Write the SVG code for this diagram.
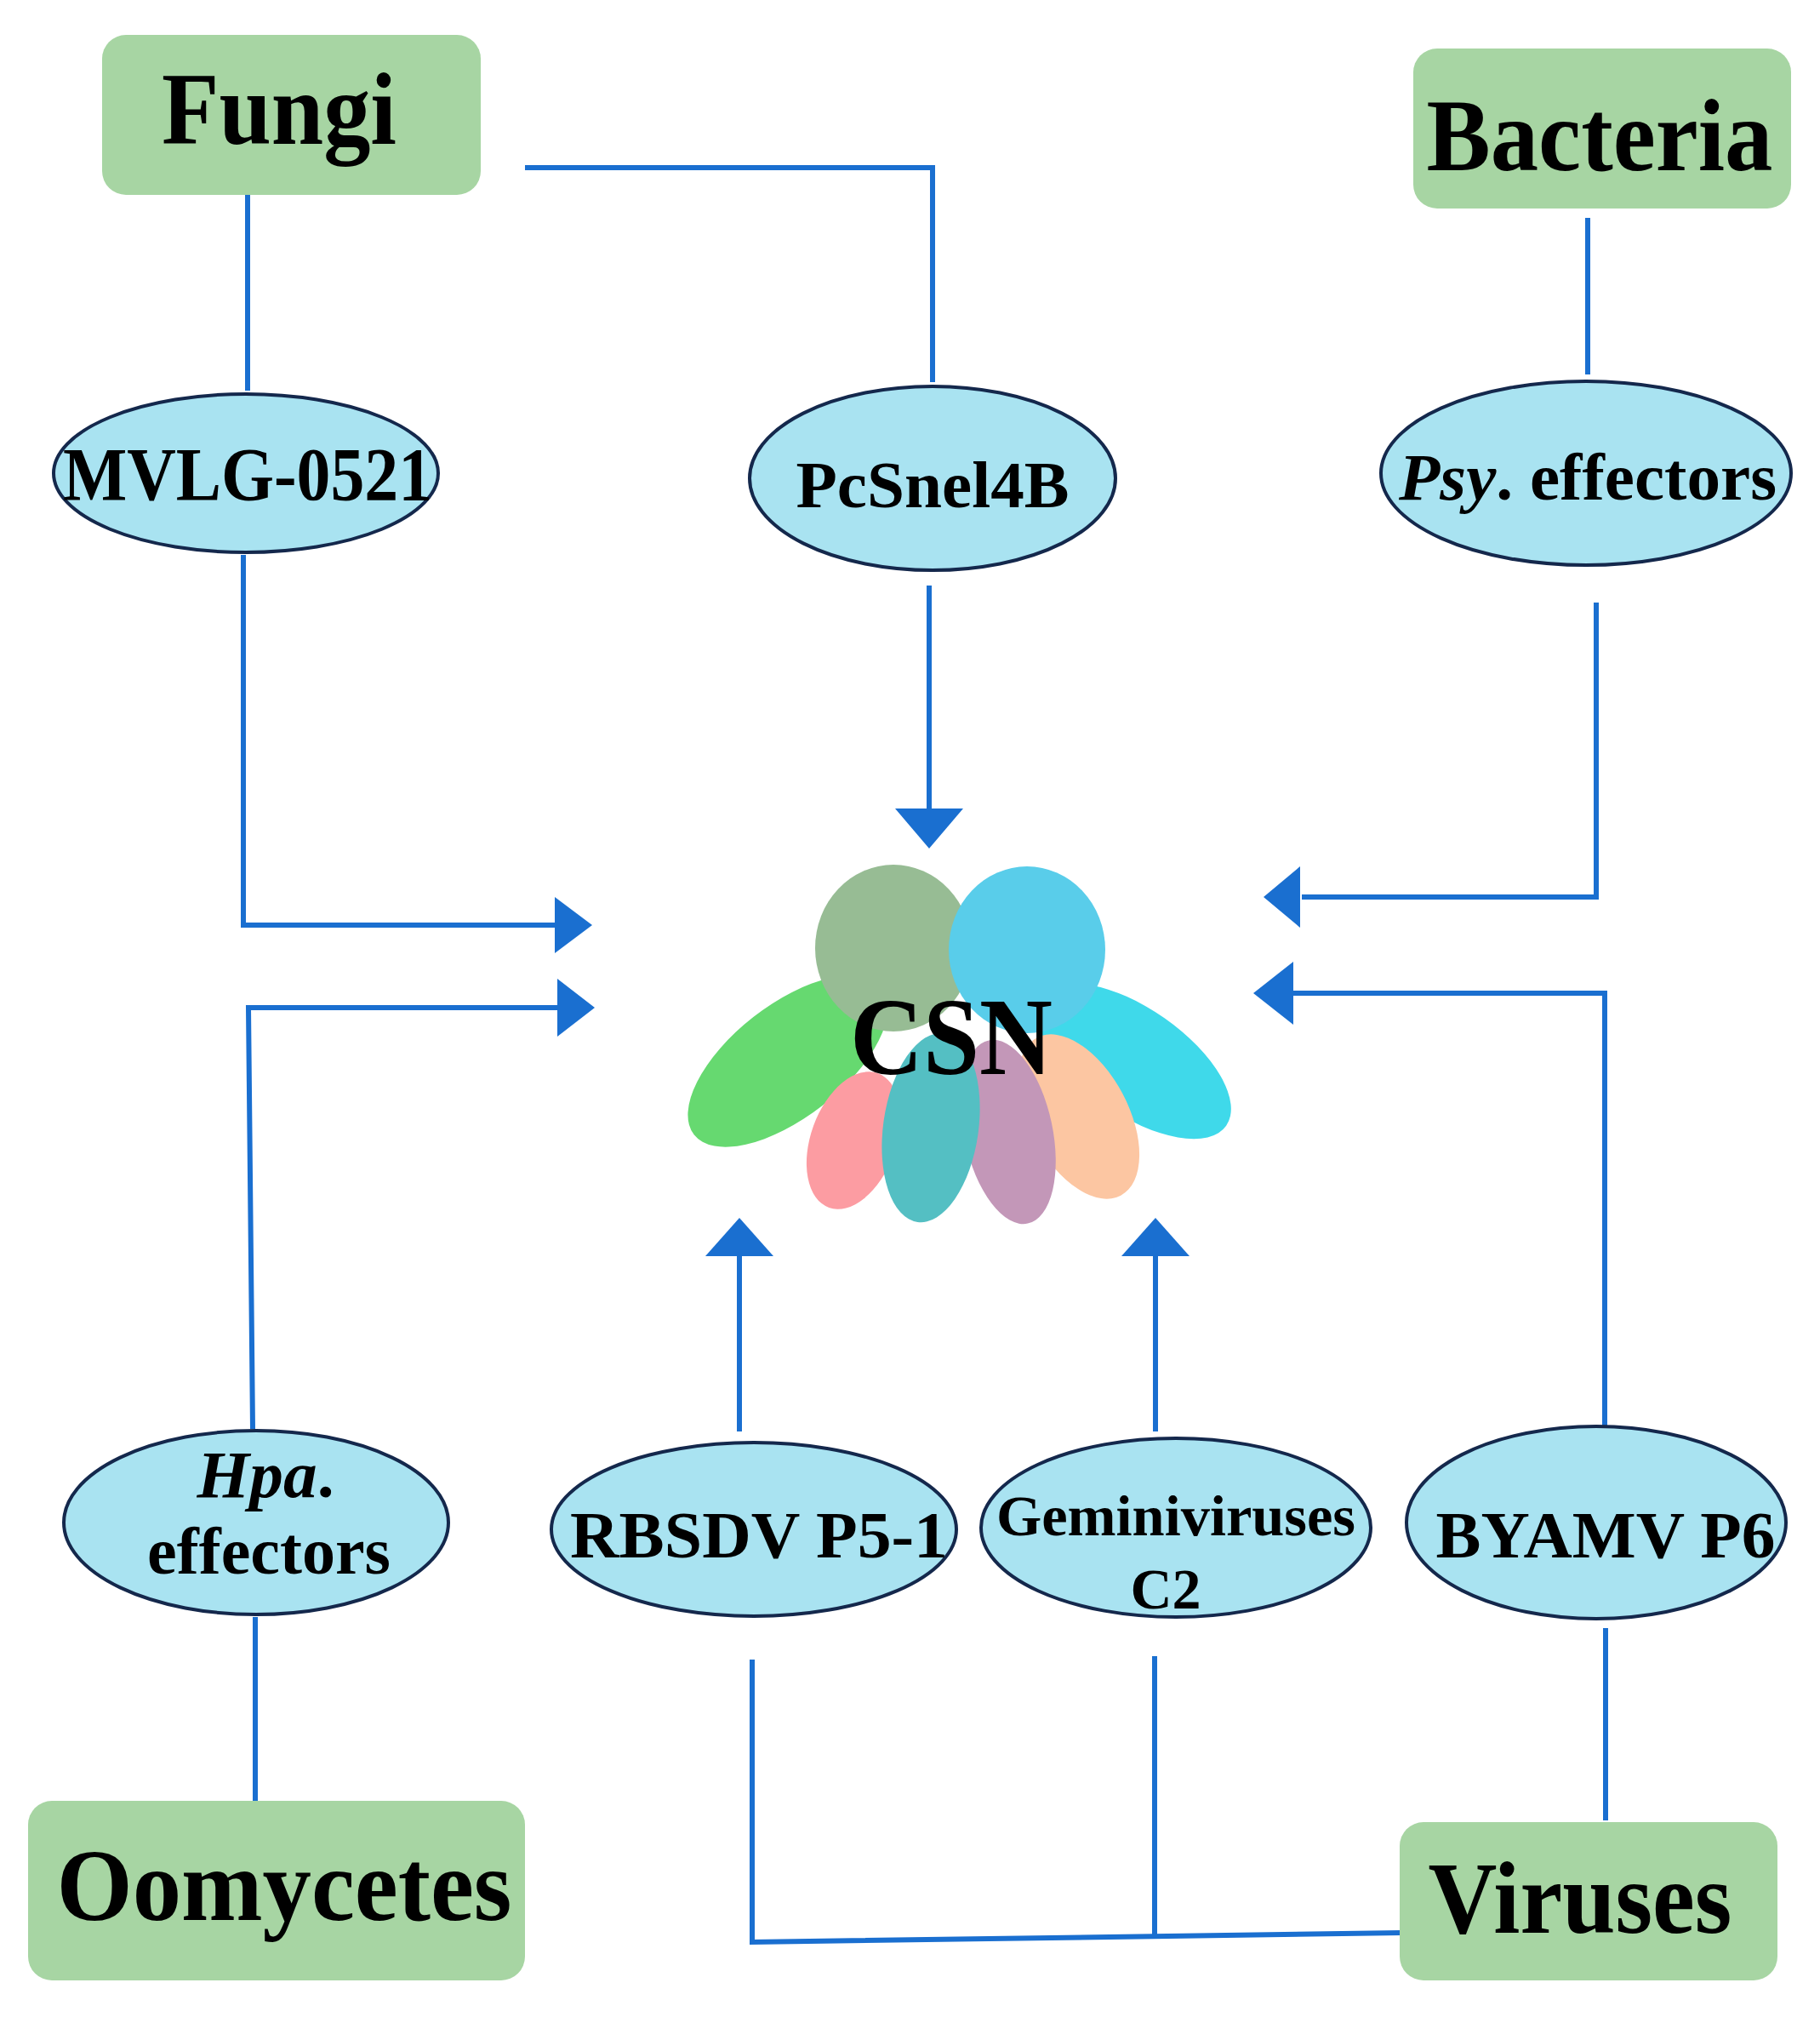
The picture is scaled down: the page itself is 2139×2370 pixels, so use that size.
<svg xmlns="http://www.w3.org/2000/svg" width="2139" height="2370" viewBox="0 0 2139 2370">
<style>
.box{fill:#a7d5a3}
.el{fill:#a9e3f1;stroke:#14284c;stroke-width:4}
.t{font-family:"Liberation Serif",serif;font-weight:bold;fill:#000;text-anchor:middle}
.big{font-size:120px}
.sm{font-size:78px}
.ln{fill:none;stroke:#1a6fd0;stroke-width:6}
.ah{fill:#1a6fd0}
</style>
<rect width="2139" height="2370" fill="#fff"/>
<g id="connectors">
<path class="ln" d="M291 221V459"/>
<path class="ln" d="M617 197H1096V449"/>
<path class="ln" d="M1866 256V440"/>
<path class="ln" d="M286 652V1087H663"/><polygon class="ah" points="652,1054 696,1087 652,1120"/>
<path class="ln" d="M1092 688V955"/><polygon class="ah" points="1052,950 1132,950 1092,997"/>
<path class="ln" d="M1876 708V1054H1530"/><polygon class="ah" points="1528,1018 1485,1054 1528,1090"/>
<path class="ln" d="M297 1679L292 1184H660"/><polygon class="ah" points="655,1150 699,1184 655,1218"/>
<path class="ln" d="M1886 1679V1167H1520"/><polygon class="ah" points="1520,1130 1473,1167 1520,1204"/>
<path class="ln" d="M869 1682V1470"/><polygon class="ah" points="829,1476 909,1476 869,1431"/>
<path class="ln" d="M1358 1682V1470"/><polygon class="ah" points="1318,1476 1398,1476 1358,1431"/>
<path class="ln" d="M300 1900V2116"/>
<path class="ln" d="M1887 1913V2139"/>
<path class="ln" d="M884 1950V2282L1649 2271"/>
<path class="ln" d="M1357 1946V2275"/>
</g>
<g id="fungi"><rect class="box" x="120" y="41" width="445" height="188" rx="28"/><text class="t big" x="328" y="169" textLength="276" lengthAdjust="spacingAndGlyphs">Fungi</text></g>
<g id="bacteria"><rect class="box" x="1661" y="57" width="444" height="188" rx="28"/><text class="t big" x="1880" y="200" textLength="407" lengthAdjust="spacingAndGlyphs">Bacteria</text></g>
<g id="oomycetes"><rect class="box" x="33" y="2116" width="584" height="211" rx="28"/><text class="t big" x="334" y="2256" textLength="535" lengthAdjust="spacingAndGlyphs">Oomycetes</text></g>
<g id="viruses"><rect class="box" x="1645" y="2141" width="444" height="186" rx="28"/><text class="t big" x="1857" y="2271" textLength="357" lengthAdjust="spacingAndGlyphs">Viruses</text></g>
<g id="mvlg"><ellipse class="el" cx="289" cy="556" rx="226" ry="93"/><text class="t" style="font-size:88px" x="291" y="587" textLength="434" lengthAdjust="spacingAndGlyphs">MVLG-0521</text></g>
<g id="pcsnel"><ellipse class="el" cx="1096" cy="562" rx="215" ry="108"/><text class="t sm" x="1096" y="596" textLength="321" lengthAdjust="spacingAndGlyphs">PcSnel4B</text></g>
<g id="psy"><ellipse class="el" cx="1864" cy="556" rx="241" ry="108"/><text class="t sm" x="1866" y="587" textLength="444" lengthAdjust="spacingAndGlyphs"><tspan font-style="italic">Psy</tspan>. effectors</text></g>
<g id="hpa"><ellipse class="el" cx="301" cy="1789" rx="226" ry="108"/><text class="t sm" x="312" y="1759" textLength="161" lengthAdjust="spacingAndGlyphs"><tspan font-style="italic">Hpa</tspan>.</text><text class="t sm" x="316" y="1849" textLength="286" lengthAdjust="spacingAndGlyphs">effectors</text></g>
<g id="rbsdv"><ellipse class="el" cx="886" cy="1797" rx="238" ry="102"/><text class="t sm" x="892" y="1830" textLength="444" lengthAdjust="spacingAndGlyphs">RBSDV P5-1</text></g>
<g id="gemini"><ellipse class="el" cx="1382" cy="1795" rx="229" ry="105"/><text class="t" style="font-size:68px" x="1382" y="1804" textLength="422" lengthAdjust="spacingAndGlyphs">Geminiviruses</text><text class="t" style="font-size:68px" x="1370" y="1890">C2</text></g>
<g id="byamv"><ellipse class="el" cx="1876" cy="1789" rx="223" ry="113"/><text class="t sm" x="1887" y="1830" textLength="399" lengthAdjust="spacingAndGlyphs">BYAMV P6</text></g>
<g id="csn">
<ellipse cx="926" cy="1247" rx="140" ry="66" fill="#66d970" transform="rotate(-38 926 1247)"/>
<ellipse cx="1333" cy="1247" rx="132" ry="62" fill="#3fd9ea" transform="rotate(35 1333 1247)"/>
<ellipse cx="1003" cy="1340" rx="50" ry="84" fill="#fc9ca2" transform="rotate(20 1003 1340)"/>
<ellipse cx="1268" cy="1312" rx="58" ry="105" fill="#fcc6a2" transform="rotate(-28 1268 1312)"/>
<ellipse cx="1185" cy="1330" rx="52" ry="110" fill="#c397b8" transform="rotate(-12 1185 1330)"/>
<ellipse cx="1094" cy="1325" rx="56" ry="112" fill="#54bfc3" transform="rotate(8 1094 1325)"/>
<ellipse cx="1050" cy="1114" rx="92" ry="98" fill="#97bc94"/>
<ellipse cx="1207" cy="1116" rx="92" ry="98" fill="#59cdea"/>
<text class="t" style="font-size:130px" x="1118" y="1262" textLength="238" lengthAdjust="spacingAndGlyphs">CSN</text>
</g>
</svg>
